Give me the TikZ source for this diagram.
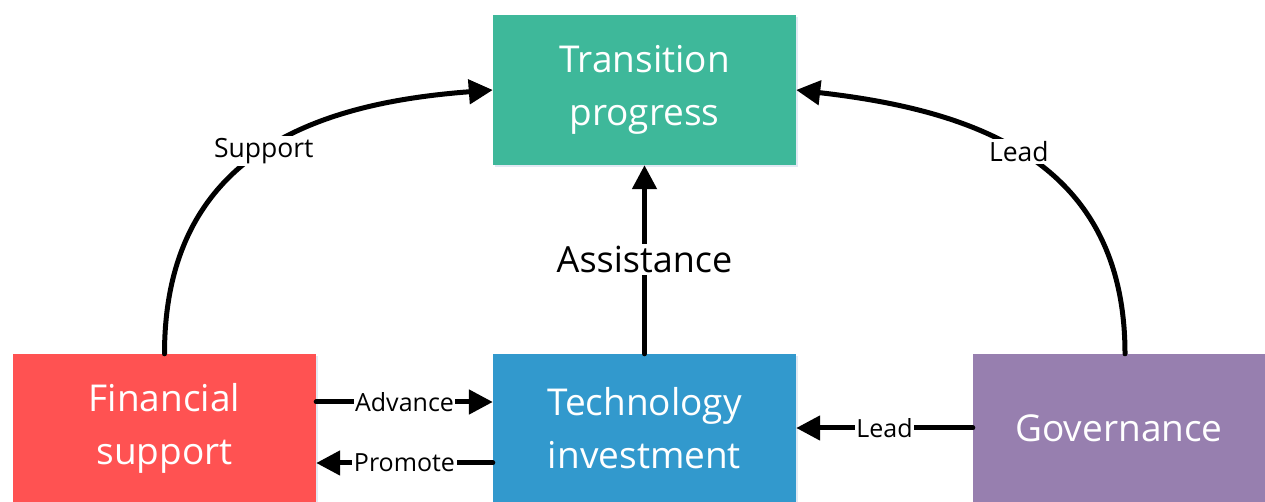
\documentclass[tikz,border=0pt]{standalone}
\usepackage{fontspec}
\setmainfont{Open Sans}
\usetikzlibrary{arrows.meta,shadows}
\definecolor{tpcol}{RGB}{62,184,154}
\definecolor{fscol}{RGB}{255,82,82}
\definecolor{ticol}{RGB}{50,153,205}
\definecolor{govcol}{RGB}{151,127,175}
\definecolor{shcol}{RGB}{226,233,243}
\tikzset{
  box/.style={rectangle, draw=none, inner sep=0pt, text=white, align=center,
    font=\fontsize{37}{53}\selectfont,
    drop shadow={shadow xshift=2pt, shadow yshift=-2pt, opacity=1, fill=shcol}},
  conn/.style={line width=5pt, line cap=round, -{Triangle[length=24pt,width=24pt]}},
  lbl/.style={fill=white, inner sep=1.5pt, text=black, font=\fontsize{25}{30}\selectfont},
  biglbl/.style={fill=white, inner sep=2pt, text=black, font=\fontsize{36}{42}\selectfont},
  curvelbl/.style={fill=white, inner sep=2pt, text=black, font=\fontsize{26.5}{30}\selectfont},
}
\begin{document}
\begin{tikzpicture}[x=1pt,y=1pt]
\useasboundingbox (0,0) rectangle (1265,502);
\node[box, fill=tpcol, minimum width=303pt, minimum height=150pt] (tp) at (644.5,412) {Transition\\progress};
\node[box, fill=fscol, minimum width=303pt, minimum height=148pt] (fs) at (164.5,74) {Financial\\support};
\node[box, fill=ticol, minimum width=303pt, minimum height=148pt] (ti) at (644.5,74) {Technology\\investment};
\node[box, fill=govcol, minimum width=292pt, minimum height=148pt] (gov) at (1119,74) {Governance};

\draw[conn] (fs.north) .. controls +(0,202) and +(-173,-13) .. node[curvelbl, pos=0.5] {Support} (tp.west);
\draw[conn] ([xshift=6pt]gov.north) .. controls +(0,195) and +(175,-20) .. node[curvelbl, pos=0.52] {Lead} (tp.east);
\draw[conn] (ti.north) -- node[biglbl] {Assistance} (tp.south);
\draw[conn] ([yshift=26pt]fs.east) -- node[lbl] {Advance} ([yshift=26pt]ti.west);
\draw[conn] ([yshift=-35pt]ti.west) -- node[lbl] {Promote} ([yshift=-35pt]fs.east);
\draw[conn] (gov.west) -- node[lbl] {Lead} (ti.east);
\end{tikzpicture}
\end{document}
